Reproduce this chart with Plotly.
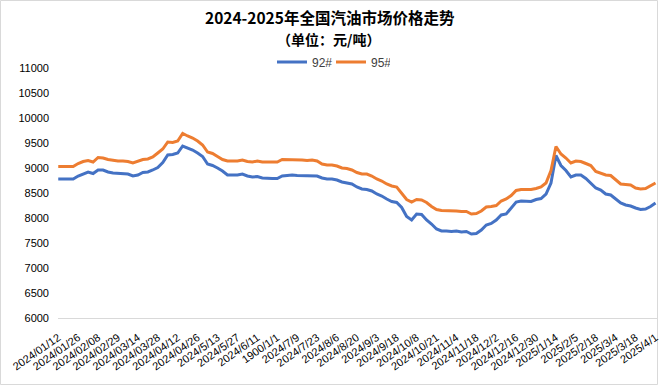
import plotly.graph_objects as go

tick_labels = ["2024/01/12", "2024/01/26", "2024/02/08", "2024/02/29", "2024/03/14", "2024/03/28",
               "2024/04/12", "2024/04/26", "2024/5/13", "2024/5/27", "2024/6/11", "1900/1/1",
               "2024/7/9", "2024/7/23", "2024/8/6", "2024/8/20", "2024/9/3", "2024/9/18",
               "2024/10/8", "2024/10/21", "2024/11/4", "2024/11/18", "2024/12/2", "2024/12/16",
               "2024/12/30", "2025/1/14", "2025/2/5", "2025/2/18", "2025/3/4", "2025/3/18", "2025/4/1"]

price_92 = [8780, 8780, 8780, 8780, 8840, 8880, 8920, 8890, 8960, 8960,
            8920, 8900, 8890, 8880, 8880, 8840, 8860, 8910, 8920, 8960,
            9010, 9110, 9260, 9270, 9300, 9440, 9400, 9360, 9300, 9230,
            9080, 9050, 9000, 8940, 8860, 8860, 8860, 8880, 8840, 8820,
            8830, 8800, 8790, 8790, 8790, 8840, 8850, 8860, 8850, 8850,
            8840, 8850, 8840, 8800, 8780, 8780, 8760, 8720, 8700, 8680,
            8620, 8580, 8570, 8540, 8480, 8440, 8380, 8330, 8310, 8210,
            8030, 7960, 8080, 8070, 7960, 7880, 7780, 7740, 7740, 7730,
            7740, 7720, 7730, 7680, 7690, 7760, 7860, 7890, 7960, 8060,
            8080, 8200, 8320, 8340, 8330, 8330, 8370, 8390, 8480, 8700,
            9250, 9050, 8950, 8820, 8860, 8860, 8790, 8700, 8600, 8560,
            8480, 8460, 8380, 8300, 8260, 8240, 8200, 8170, 8180, 8230,
            8300]

price_95 = [9030, 9030, 9030, 9030, 9090, 9130, 9150, 9120, 9210, 9200,
            9170, 9150, 9140, 9140, 9130, 9100, 9140, 9170, 9180, 9220,
            9300, 9380, 9520, 9510, 9540, 9690, 9640, 9600, 9540, 9460,
            9320, 9290, 9230, 9170, 9140, 9140, 9140, 9160, 9130, 9120,
            9140, 9120, 9120, 9120, 9120, 9170, 9170, 9170, 9160, 9160,
            9150, 9160, 9140, 9080, 9060, 9060, 9040, 9000, 8990, 8960,
            8910, 8880, 8880, 8840, 8780, 8740, 8680, 8640, 8620, 8500,
            8370, 8320, 8370, 8360, 8310, 8230, 8170, 8150, 8150, 8140,
            8140, 8130, 8130, 8080, 8090, 8140, 8220, 8230, 8250, 8340,
            8380, 8450, 8550, 8570, 8570, 8570, 8590, 8620, 8700, 8950,
            9430, 9280, 9200, 9100, 9140, 9130, 9090, 9050, 8930, 8900,
            8860, 8850, 8760, 8680, 8670, 8660, 8600, 8580, 8590, 8640,
            8700]

x_idx = list(range(len(price_92)))
step = 4
tick_vals = list(range(0, len(price_92), step))

L, R, T, B = 58, 2, 68, 68
W, H = 659, 386
plot_w = W - L - R
plot_h = H - T - B

fig = go.Figure()
fig.add_trace(go.Scatter(x=x_idx, y=price_92, mode="lines", name="92#",
                         line=dict(color="#4472C4", width=3), cliponaxis=False))
fig.add_trace(go.Scatter(x=x_idx, y=price_95, mode="lines", name="95#",
                         line=dict(color="#ED7D31", width=3), cliponaxis=False))

fig.update_layout(
    width=W, height=H,
    margin=dict(l=L, r=R, t=T, b=B, autoexpand=False),
    paper_bgcolor="white", plot_bgcolor="white",
    font=dict(family="Noto Sans CJK SC, Liberation Sans", color="black"),
    showlegend=True,
    legend=dict(orientation="h", x=(272 - L) / plot_w, xanchor="left", y=1 + 6 / plot_h, yanchor="middle",
                font=dict(size=12, family="Liberation Sans", color="#404040"),
                bgcolor="rgba(0,0,0,0)", itemwidth=30, entrywidth=14, entrywidthmode="pixels"),
    xaxis=dict(range=[-0.05, len(price_92) - 1 + 0.3], tickmode="array", tickvals=tick_vals,
               ticktext=tick_labels, tickangle=-35, showgrid=False, zeroline=False,
               showline=True, linecolor="#D9D9D9", linewidth=1, ticks="", automargin=False,
               ticklabelstandoff=8, ticklabeloverflow="allow",
               tickfont=dict(size=11, family="Liberation Sans", color="black")),
    yaxis=dict(range=[6000, 11000], dtick=500, tickformat="d", showgrid=False, zeroline=False,
               showline=False, ticks="", automargin=False, ticklabelstandoff=8,
               tickfont=dict(size=11, family="Liberation Sans", color="black")),
    annotations=[
        dict(text="<b>2024-2025年全国汽油市场价格走势</b>", x=0.5 + (330 - L - plot_w / 2) / plot_w, xref="paper",
             y=1 + (T - 17) / plot_h, yref="paper", yanchor="middle", showarrow=False,
             font=dict(size=15.5, family="Noto Sans CJK SC")),
        dict(text="<b>（单位：元/吨）</b>", x=0.5 + (328 - L - plot_w / 2) / plot_w, xref="paper",
             y=1 + (T - 39) / plot_h, yref="paper", yanchor="middle", showarrow=False,
             font=dict(size=14, family="Noto Sans CJK SC")),
    ],
)

fig.add_shape(type="rect", xref="paper", yref="paper",
              x0=-(L - 0.5) / plot_w, x1=1 + (R - 1.5) / plot_w,
              y0=-(B - 1.5) / plot_h, y1=1 + (T - 0.5) / plot_h,
              line=dict(color="#D9D9D9", width=1), layer="below")

fig.write_html("out.html", config={"displayModeBar": False},
               post_script="document.body.style.margin='0';document.body.style.overflow='hidden';")
